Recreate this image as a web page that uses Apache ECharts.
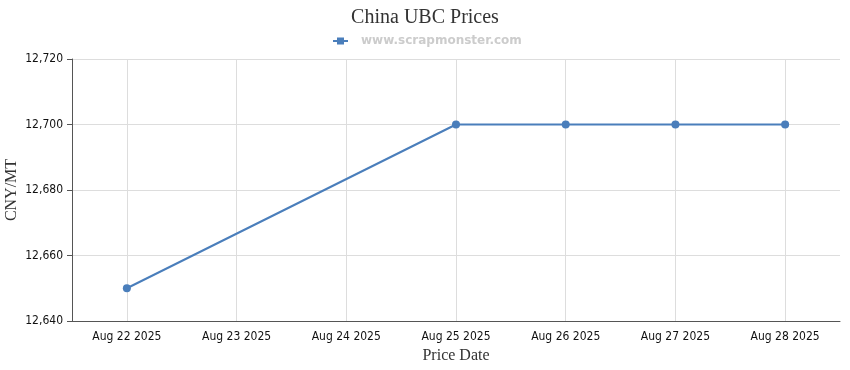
<!DOCTYPE html>
<html><head><meta charset="utf-8">
<script src="https://cdn.jsdelivr.net/npm/echarts@6/dist/echarts.min.js"></script>
<style>html,body{margin:0;padding:0;background:#fff}#c{width:850px;height:370px}</style>
</head><body><div id="c"></div>
<script>
const categories = ['Aug 22 2025','Aug 23 2025','Aug 24 2025','Aug 25 2025','Aug 26 2025','Aug 27 2025','Aug 28 2025'];
const prices = [12650, null, null, 12700, 12700, 12700, 12700];
const yTicks = {min: 12640, max: 12720, interval: 20};
const chart = echarts.init(document.getElementById('c'));
chart.setOption({
  animation: false,
  title: {text: 'China UBC Prices', left: 'center', top: 3,
    textStyle: {fontFamily: 'Liberation Serif', fontSize: 20, fontWeight: 'normal', color: '#333'}},
  legend: {top: 30, left: 328, data: ['www.scrapmonster.com'], itemWidth: 15, itemHeight: 7, itemGap: 5,
    icon: 'path://M0,2.5L4,2.5L4,0L11,0L11,2.5L15,2.5L15,4.5L11,4.5L11,7L4,7L4,4.5L0,4.5Z',
    textStyle: {fontFamily: 'DejaVu Sans', fontSize: 12, fontWeight: 'bold', color: '#cccccc', padding: [0, 0, 0, 8]}},
  grid: {left: 72, right: 10, top: 59, bottom: 49, outerBoundsMode: 'none', containLabel: false},
  xAxis: {type: 'category', data: categories, boundaryGap: true,
    name: 'Price Date', nameLocation: 'middle', nameGap: 26,
    nameTextStyle: {fontFamily: 'Liberation Serif', fontSize: 16, color: '#333'},
    axisLine: {lineStyle: {color: '#555'}},
    axisTick: {alignWithLabel: true, length: 5, lineStyle: {color: '#555'}},
    axisLabel: {fontFamily: 'DejaVu Sans Condensed', fontSize: 12, color: '#111', margin: 10},
    splitLine: {show: true, alignWithLabel: true, lineStyle: {color: '#dddddd'}}},
  yAxis: {type: 'value', min: yTicks.min, max: yTicks.max, interval: yTicks.interval,
    name: 'CNY/MT', nameLocation: 'middle', nameGap: 52, nameMoveOverlap: false,
    nameTextStyle: {fontFamily: 'Liberation Serif', fontSize: 16, color: '#333'},
    axisLine: {show: true, lineStyle: {color: '#555'}},
    axisTick: {show: true, length: 5, lineStyle: {color: '#555'}},
    axisLabel: {fontFamily: 'DejaVu Sans Condensed', fontSize: 12, color: '#111', margin: 9,
      formatter: v => v.toLocaleString('en-US')},
    splitLine: {show: true, lineStyle: {color: '#dddddd'}}},
  series: [{name: 'www.scrapmonster.com', type: 'line', data: prices, connectNulls: true,
    symbol: 'circle', symbolSize: 8, showSymbol: true,
    itemStyle: {color: '#4a7ebb'}, lineStyle: {color: '#4a7ebb', width: 2}}]
});
</script></body></html>
